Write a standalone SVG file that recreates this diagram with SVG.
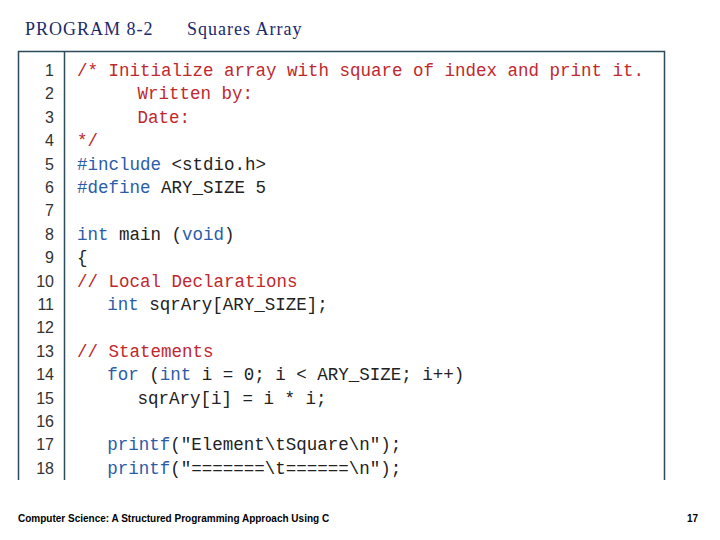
<svg xmlns="http://www.w3.org/2000/svg" width="720" height="540" viewBox="0 0 720 540">
<style>
.t{font-family:"Liberation Serif",serif;font-size:18px;letter-spacing:1px;fill:#1a2a6c}
.c{font-family:"Liberation Mono",monospace;font-size:17.5px}
.n{font-family:"Liberation Sans",sans-serif;font-size:16px;fill:#333;text-anchor:end}
.r{fill:#c0282e}.b{fill:#2b5ca8}.k{fill:#222}
.f{font-family:"Liberation Sans",sans-serif;font-size:10px;font-weight:bold;fill:#000}
</style>
<rect width="720" height="540" fill="#fff"/>
<g id="title"><text class="t" x="25" y="35">PROGRAM 8-2</text><text class="t" x="187" y="35">Squares Array</text></g>
<g id="frame" stroke="#2e4a5e" stroke-width="1.5" fill="none">
<path d="M18.5 480V51.5H664.5V480"/><path d="M64.5 51.5V480"/>
</g>
<g id="numbers" class="n">
<text x="54" y="76">1</text><text x="54" y="99.4">2</text><text x="54" y="122.8">3</text><text x="54" y="146.2">4</text><text x="54" y="169.6">5</text><text x="54" y="193">6</text><text x="54" y="216.4">7</text><text x="54" y="239.8">8</text><text x="54" y="263.2">9</text><text x="54" y="286.6">10</text><text x="54" y="310">11</text><text x="54" y="333.4">12</text><text x="54" y="356.8">13</text><text x="54" y="380.2">14</text><text x="54" y="403.6">15</text><text x="54" y="427">16</text><text x="54" y="450.4">17</text><text x="54" y="473.8">18</text>
</g>
<g id="code" class="c">
<text x="77" y="76" class="r">/* Initialize array with square of index and print it.</text>
<text x="137.5" y="99.4" class="r">Written by:</text>
<text x="137.5" y="122.8" class="r">Date:</text>
<text x="77" y="146.2" class="r">*/</text>
<text x="77" y="169.6" xml:space="preserve"><tspan class="b">#include</tspan><tspan class="k"> &lt;stdio.h&gt;</tspan></text>
<text x="77" y="193" xml:space="preserve"><tspan class="b">#define</tspan><tspan class="k"> ARY_SIZE 5</tspan></text>
<text x="77" y="239.8" xml:space="preserve"><tspan class="b">int</tspan><tspan class="k"> main (</tspan><tspan class="b">void</tspan><tspan class="k">)</tspan></text>
<text x="77" y="263.2" class="k">{</text>
<text x="77" y="286.6" class="r">// Local Declarations</text>
<text x="107.2" y="310" xml:space="preserve"><tspan class="b">int</tspan><tspan class="k"> sqrAry[ARY_SIZE];</tspan></text>
<text x="77" y="356.8" class="r">// Statements</text>
<text x="107.2" y="380.2" xml:space="preserve"><tspan class="b">for</tspan><tspan class="k"> (</tspan><tspan class="b">int</tspan><tspan class="k"> i = 0; i &lt; ARY_SIZE; i++)</tspan></text>
<text x="137.5" y="403.6" class="k">sqrAry[i] = i * i;</text>
<text x="107.2" y="450.4" xml:space="preserve"><tspan class="b">printf</tspan><tspan class="k">("Element\tSquare\n");</tspan></text>
<text x="107.2" y="473.8" xml:space="preserve"><tspan class="b">printf</tspan><tspan class="k">("=======\t======\n");</tspan></text>
</g>
<g id="footer"><text class="f" x="18" y="522">Computer Science: A Structured Programming Approach Using C</text><text class="f" x="698" y="522" text-anchor="end">17</text></g>
</svg>
